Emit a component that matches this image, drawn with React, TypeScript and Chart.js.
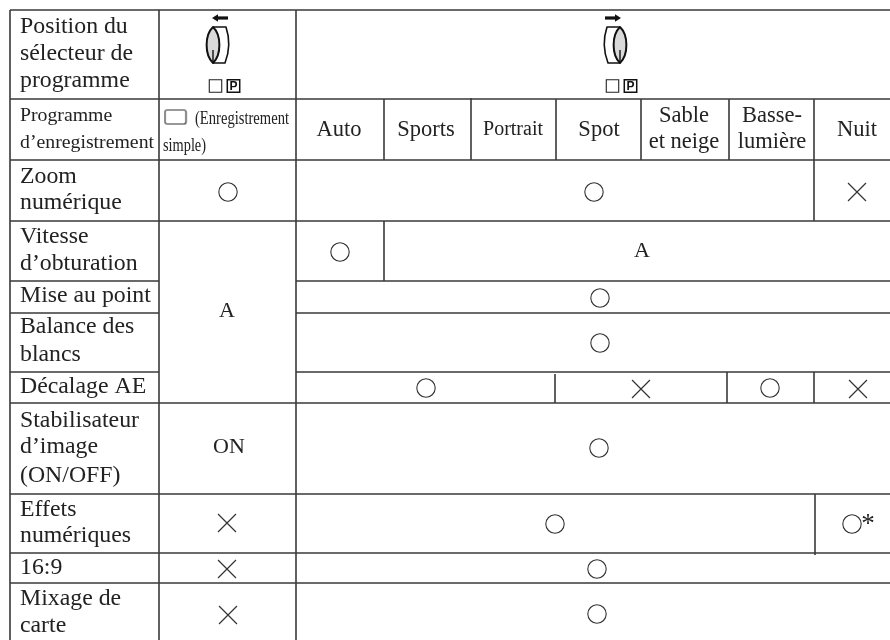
import React, { useEffect, useRef } from "react";
import { Chart, registerables } from "chart.js";

Chart.register(...registerables);

const INK = "#222222";
const SERIF = '"Liberation Serif", serif';

// Table rules, in the table's own units: [position, from, to]
const horizontalRules: number[][] = [
  [10, 10, 890], [99, 10, 890], [160, 10, 890], [221, 10, 890],
  [281, 10, 159], [281, 296, 890], [313, 10, 159], [313, 296, 890],
  [372, 10, 159], [372, 296, 890], [403, 10, 890], [494, 10, 890],
  [553, 10, 890], [583, 10, 890],
];
const verticalRules: number[][] = [
  [10, 10, 640], [159, 10, 640], [296, 10, 640],
  [384, 99, 160], [384, 221, 281],
  [471, 98, 160], [556, 99, 160], [641, 99, 160], [729, 99, 160], [814, 99, 221],
  [555, 374, 403], [727, 372, 403], [814, 372, 403], [815, 494, 555],
];

// Cell marks
const circles: number[][] = [
  [228, 192], [594, 192], [340, 252], [600, 298], [600, 343],
  [426, 388], [770, 388], [599, 448], [555, 524], [852, 524], [597, 569], [597, 614],
];
const crosses: number[][] = [
  [857, 192], [641, 389], [858, 389], [227, 523], [227, 569], [228, 615],
];
const plainBoxes: number[][] = [[215.5, 86], [612.5, 86]];
const letterBoxes: number[][] = [[233.5, 86], [630.5, 86]];
const simpleBox: number[][] = [[175.5, 117]];
const dialLeft: number[][] = [[218, 41]];
const dialRight: number[][] = [[615, 41]];

// Text: [string, x, baseline, size, align, maxWidth?]
type Label = [string, number, number, number, CanvasTextAlign, number?];
const rowLabels: Label[] = [
  ["Position du", 20, 33, 23.8, "left"],
  ["sélecteur de", 20, 60, 23.8, "left"],
  ["programme", 20, 87, 23.8, "left"],
  ["Programme", 20, 121, 19.8, "left"],
  ["d’enregistrement", 20, 148, 19.8, "left"],
  ["Zoom", 20, 183, 23.8, "left"],
  ["numérique", 20, 209, 23.8, "left"],
  ["Vitesse", 20, 243, 23.8, "left"],
  ["d’obturation", 20, 270, 23.8, "left"],
  ["Mise au point", 20, 302, 23.8, "left"],
  ["Balance des", 20, 333, 23.8, "left"],
  ["blancs", 20, 361, 23.8, "left"],
  ["Décalage AE", 20, 393, 23.8, "left"],
  ["Stabilisateur", 20, 427, 23.8, "left"],
  ["d’image", 20, 453, 23.8, "left"],
  ["(ON/OFF)", 20, 482, 23.8, "left"],
  ["Effets", 20, 516, 23.8, "left"],
  ["numériques", 20, 542, 23.8, "left"],
  ["16:9", 20, 574, 23.8, "left"],
  ["Mixage de", 20, 605, 23.8, "left"],
  ["carte", 20, 632, 23.8, "left"],
];
const headerLabels: Label[] = [
  ["(Enregistrement", 195, 124, 19, "left", 94],
  ["simple)", 163, 151, 19, "left", 43],
  ["Auto", 339, 136, 22.5, "center"],
  ["Sports", 426, 136, 22.5, "center"],
  ["Portrait", 513, 135, 20, "center"],
  ["Spot", 599, 136, 22.5, "center"],
  ["Sable", 684, 122, 22.5, "center"],
  ["et neige", 684, 148, 22.5, "center"],
  ["Basse-", 772, 122, 22.5, "center"],
  ["lumière", 772, 148, 22.5, "center"],
  ["Nuit", 857, 136, 22.5, "center"],
];
const cellLabels: Label[] = [
  ["A", 642, 257, 22, "center"],
  ["A", 227, 317, 22, "center"],
  ["ON", 229, 453, 22, "center"],
  ["*", 868, 532, 27, "center"],
];

function toRuleSegments(h: number[][], v: number[][]) {
  const pts: ({ x: number; y: number } | { x: number; y: null })[] = [];
  h.forEach(([y, a, b]) => pts.push({ x: a, y }, { x: b, y }, { x: b, y: null }));
  v.forEach(([x, a, b]) => pts.push({ x, y: a }, { x, y: b }, { x, y: null }));
  return pts;
}
const toPoints = (list: number[][]) => list.map(([x, y]) => ({ x, y }));

function makeDial(mirror: boolean) {
  const c = document.createElement("canvas");
  c.width = 32;
  c.height = 54;
  const g = c.getContext("2d")!;
  g.translate(16, 27);
  if (mirror) g.scale(-1, 1);
  g.lineJoin = "round";
  // arrow
  g.fillStyle = "#111";
  g.fillRect(-2, -24.6, 12, 3.2);
  g.beginPath();
  g.moveTo(-6, -23);
  g.lineTo(0, -26.8);
  g.lineTo(0, -19.2);
  g.closePath();
  g.fill();
  // rear body
  g.strokeStyle = "#111";
  g.lineWidth = 1.6;
  g.beginPath();
  g.moveTo(-5, -14);
  g.lineTo(8, -14);
  g.quadraticCurveTo(14, 4, 7, 22);
  g.lineTo(-5, 22);
  g.stroke();
  // front lens
  g.fillStyle = "#d9d9d9";
  g.lineWidth = 2;
  g.beginPath();
  g.moveTo(-5, -14);
  g.bezierCurveTo(-13.5, -6, -13.5, 14, -5, 22);
  g.bezierCurveTo(3.5, 14, 3.5, -6, -5, -14);
  g.closePath();
  g.fill();
  g.stroke();
  g.lineWidth = 1.4;
  g.beginPath();
  g.moveTo(-5, 9);
  g.lineTo(-5, 22);
  g.stroke();
  return c;
}

function makeSimpleBox() {
  const c = document.createElement("canvas");
  c.width = 24;
  c.height = 17;
  const g = c.getContext("2d")!;
  g.strokeStyle = "#333";
  g.lineWidth = 1.2;
  g.beginPath();
  g.roundRect(1.5, 1.5, 21, 14, 2);
  g.stroke();
  return c;
}

const labelPlugin = {
  id: "tableLabels",
  afterDatasetsDraw(chart: any) {
    const { ctx, scales } = chart;
    ctx.save();
    ctx.fillStyle = INK;
    ctx.textBaseline = "alphabetic";
    [...rowLabels, ...headerLabels, ...cellLabels].forEach(([t, x, y, size, align, maxW]) => {
      ctx.font = `${size}px ${SERIF}`;
      ctx.textAlign = align;
      const px = scales.x.getPixelForValue(x);
      const py = scales.y.getPixelForValue(y);
      if (maxW) ctx.fillText(t, px, py, maxW);
      else ctx.fillText(t, px, py);
    });
    ctx.font = 'bold 12px "Liberation Sans", sans-serif';
    ctx.fillStyle = "#111";
    ctx.textAlign = "center";
    ctx.textBaseline = "middle";
    letterBoxes.forEach(([x, y]) => {
      ctx.fillText("P", scales.x.getPixelForValue(x), scales.y.getPixelForValue(y) + 0.5);
    });
    ctx.restore();
  },
};

export default function App() {
  const ref = useRef<HTMLCanvasElement>(null);
  useEffect(() => {
    const chart = new Chart(ref.current!, {
      type: "scatter",
      data: {
        datasets: [
          {
            label: "rules",
            data: toRuleSegments(horizontalRules, verticalRules) as any,
            showLine: true,
            spanGaps: false,
            borderColor: "#3a3a3a",
            borderWidth: 1.6,
            pointRadius: 0,
            clip: false,
          },
          {
            label: "circles",
            data: toPoints(circles),
            pointStyle: "circle",
            pointRadius: 9.2,
            pointBorderWidth: 1.1,
            pointBorderColor: "#333",
            pointBackgroundColor: "transparent",
          },
          {
            label: "crosses",
            data: toPoints(crosses),
            pointStyle: "crossRot",
            pointRadius: 12.7,
            pointBorderWidth: 1.2,
            pointBorderColor: "#333",
          },
          {
            label: "plain boxes",
            data: toPoints(plainBoxes),
            pointStyle: "rect",
            pointRadius: 8.8,
            pointBorderWidth: 1.1,
            pointBorderColor: "#222",
            pointBackgroundColor: "transparent",
          },
          {
            label: "letter boxes",
            data: toPoints(letterBoxes),
            pointStyle: "rect",
            pointRadius: 8.8,
            pointBorderWidth: 1.5,
            pointBorderColor: "#111",
            pointBackgroundColor: "transparent",
          },
          {
            label: "simple box",
            data: toPoints(simpleBox),
            pointStyle: makeSimpleBox() as any,
          },
          {
            label: "dial left",
            data: toPoints(dialLeft),
            pointStyle: makeDial(false) as any,
          },
          {
            label: "dial right",
            data: toPoints(dialRight),
            pointStyle: makeDial(true) as any,
          },
        ],
      },
      options: {
        animation: false,
        responsive: false,
        layout: { padding: 0, autoPadding: false },
        plugins: { legend: { display: false }, tooltip: { enabled: false } },
        scales: {
          x: { type: "linear", min: 0, max: 890, display: false },
          y: { type: "linear", min: 0, max: 640, reverse: true, display: false },
        },
      },
      plugins: [labelPlugin],
    });
    return () => chart.destroy();
  }, []);
  return (
    <div style={{ position: "absolute", left: 0, top: 0, width: 890, height: 640, background: "#fff" }}>
      <canvas ref={ref} width={890} height={640} style={{ display: "block" }} />
    </div>
  );
}
